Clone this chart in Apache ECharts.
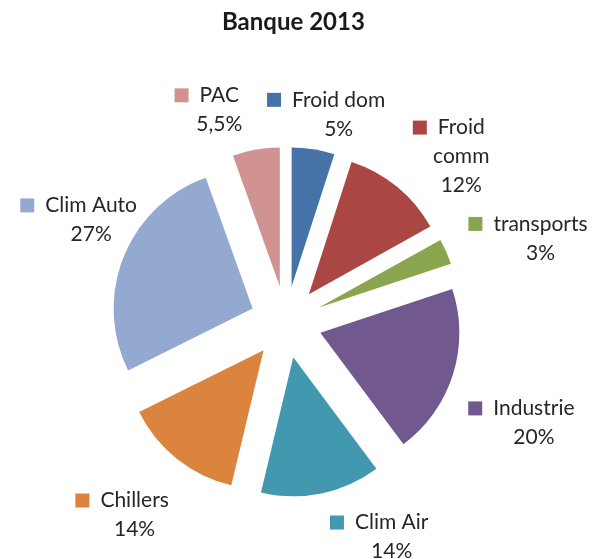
<!DOCTYPE html>
<html lang="fr">
<head>
<meta charset="UTF-8">
<title>Banque 2013</title>
<style>
  html, body { margin: 0; padding: 0; background: #fff; }
  #main { width: 602px; height: 559px; }
</style>
</head>
<body>
<div id="main"></div>
<script src="https://cdn.jsdelivr.net/npm/echarts@6/dist/echarts.min.js"></script>
<script>
// données
var categories = ['Froid dom', 'Froid comm', 'transports', 'Industrie', 'Clim Air', 'Chillers', 'Clim Auto', 'PAC'];
var values = [5, 12, 3, 20, 14, 14, 27, 5.5];
var colors = ['#4572A7', '#AA4643', '#89A54E', '#71588F', '#4198AF', '#DB843D', '#93A9CF', '#D19392'];
// petits décalages des étiquettes (placement "ajustement optimal" d'Excel)
var labelNudge = [[-54, -17], [-26, -49], [-6, -47], [-2, 43], [0, 26], [33, 42], [60, -30], [16, -22]];

var myChart = echarts.init(document.getElementById('main'));

// le carré de légende dépasse à gauche, le texte reste centré (comme Excel)
var rich = {
  t: { fontFamily: 'Lato', fontSize: 21, color: '#262626', align: 'center', lineHeight: 29 },
  pad: { width: 25, align: 'center' }
};
colors.forEach(function (c, i) {
  rich['k' + i] = { backgroundColor: c, width: 14, height: 14, align: 'center' };
  rich['g' + i] = { width: 11, align: 'center' };
});

var data = categories.map(function (name, i) {
  return { name: name, value: values[i], selected: true, itemStyle: { color: colors[i] } };
});

var option = {
  backgroundColor: '#fff',
  animation: false,
  title: {
    text: 'Banque 2013',
    left: 217,
    top: 5,
    textStyle: { fontFamily: 'Lato', fontSize: 24, fontWeight: 'bold', color: '#1a1a1a' }
  },
  series: [{
    type: 'pie',
    // boîte élargie pour que les étiquettes de gauche ne soient pas rétrécies
    left: -100,
    right: -100,
    center: [386, 322],
    radius: 139,
    startAngle: 90,
    clockwise: true,
    selectedMode: 'multiple',
    selectedOffset: 36,
    emphasis: { disabled: true },
    data: data,
    labelLine: { show: false, length: 18, length2: 0 },
    label: {
      position: 'outside',
      rich: rich,
      formatter: function (p) {
        var i = p.dataIndex;
        var v = String(p.value).replace('.', ',') + '%';
        var parts = p.name === 'Froid comm' ? ['Froid', 'comm'] : [p.name];
        var s = '{k' + i + '|}{g' + i + '|}{t|' + parts[0] + '}{pad|}';
        for (var j = 1; j < parts.length; j++) s += '\n{t|' + parts[j] + '}';
        return s + '\n{t|' + v + '}';
      }
    },
    labelLayout: function (p) {
      var n = labelNudge[p.dataIndex];
      return { dx: n[0], dy: n[1] };
    }
  }]
};

myChart.setOption(option);
</script>
</body>
</html>
